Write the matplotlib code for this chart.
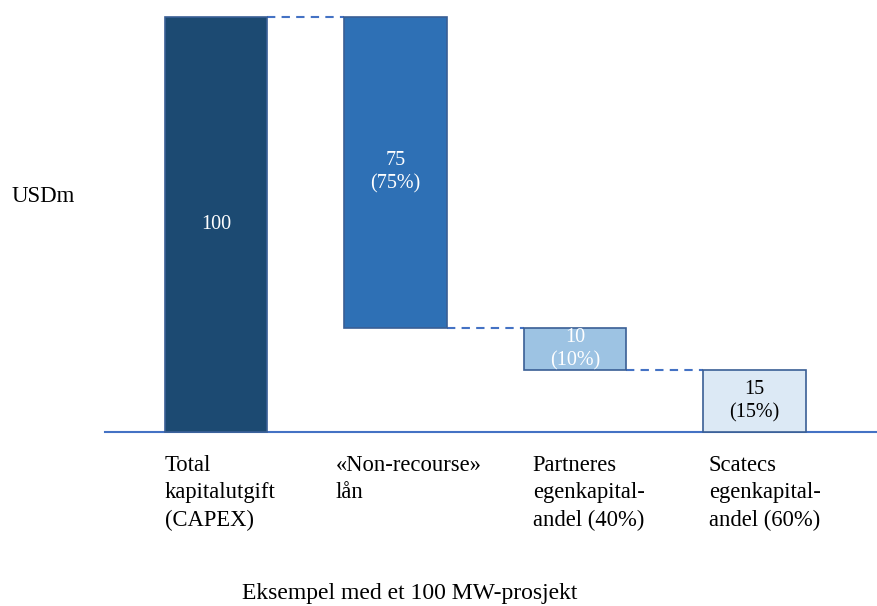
import matplotlib.pyplot as plt

plt.rcParams['font.family'] = ['Liberation Serif', 'DejaVu Serif']

# waterfall data (USDm)
categories = ['Total\nkapitalutgift\n(CAPEX)', '«Non-recourse»\nlån',
              'Partneres\negenkapital-\nandel (40%)', 'Scatecs\negenkapital-\nandel (60%)']
values = [100, 75, 10, 15]
shares = [None, 75, 10, 15]

colors = ['#1C4A72', '#2E70B5', '#9DC3E3', '#DCE9F5']
text_colors = ['white', 'white', 'white', 'black']
label_shift = [0.0, -0.05, 0.05, 0.03]

# bottoms: first bar is the total, the rest step down from it
bottoms = [0]
running = values[0]
for v in values[1:]:
    running -= v
    bottoms.append(running)

fig = plt.figure(figsize=(8.77, 6.06), dpi=100)
ax = fig.add_axes([105 / 877, 174 / 606, 772 / 877, 415 / 606])

x = list(range(len(values)))
width = 0.57
ax.bar(x, values, width=width, bottom=bottoms, color=colors,
       edgecolor='#3A5F95', linewidth=1.2, clip_on=False, zorder=3)

# dashed connectors between steps
for i in range(len(values) - 1):
    level = bottoms[i] if i > 0 else values[0]
    ax.plot([x[i] + width / 2, x[i + 1] - width / 2], [level, level],
            ls=(0, (4, 3)), color='#4472C4', lw=1.5, clip_on=False, zorder=2)

# value labels
for i, v in enumerate(values):
    txt = str(v) if shares[i] is None else f'{v}\n({shares[i]}%)'
    ax.text(x[i], bottoms[i] + v / 2, txt, ha='center', va='center',
            color=text_colors[i], fontsize=14.5, linespacing=1.3, zorder=4)

# category labels under the baseline
for i, lab in enumerate(categories):
    ax.text(x[i] - width / 2 + label_shift[i], -5.5, lab, ha='left', va='top',
            fontsize=16.3, linespacing=1.4)

ax.set_xlim(-0.618, 3.682)
ax.set_ylim(0, 100)
for side in ['top', 'right', 'left']:
    ax.spines[side].set_visible(False)
ax.spines['bottom'].set_color('#4472C4')
ax.spines['bottom'].set_linewidth(1.5)
ax.set_xticks([])
ax.set_yticks([])

fig.text(12 / 877, 1 - 197 / 606, 'USDm', ha='left', va='center', fontsize=16.5)
fig.text(410 / 877, 1 - 594 / 606, 'Eksempel med et 100 MW-prosjekt',
         ha='center', va='center', fontsize=17)

fig.savefig('out.png', dpi=100)
